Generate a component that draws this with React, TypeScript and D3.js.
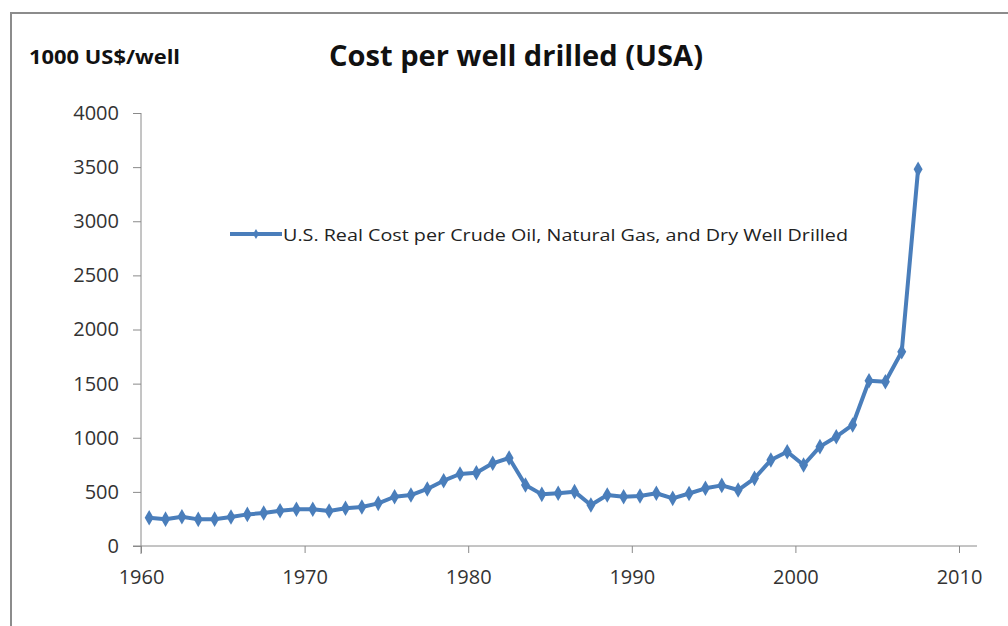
import React, { useEffect, useRef } from "react";
import * as d3 from "d3";

// years 1960..2007, cost in 1000 US$ per well
const years = d3.range(1960, 2008);
const costs = [
  261, 248, 271, 246, 248, 268, 292, 305, 326, 339,
  339, 323, 348, 360, 394, 455, 471, 527, 603, 665,
  677, 764, 813, 563, 477, 487, 502, 379, 471, 455,
  462, 487, 440, 485, 533, 560, 517, 625, 794, 871,
  748, 918, 1010, 1118, 1527, 1518, 1795, 3480,
];
const yTicks = [0, 500, 1000, 1500, 2000, 2500, 3000, 3500, 4000];
const xTicks = [1960, 1970, 1980, 1990, 2000, 2010];
const seriesName = "U.S. Real Cost per Crude Oil, Natural Gas, and Dry Well Drilled";

const W = 1008, H = 626;
const blue = "#4a7ebb";
const axisGrey = "#8a8a8a";
const font = "'Open Sans', 'Noto Sans', sans-serif";

export default function App() {
  const ref = useRef<SVGSVGElement>(null);

  useEffect(() => {
    const svg = d3.select(ref.current);
    svg.selectAll("*").remove();

    const x = d3.scaleLinear().domain([1960, 2010]).range([141, 959]);
    const y = d3.scaleLinear().domain([0, 4000]).range([546, 113]);

    svg.append("rect").attr("width", W).attr("height", H).attr("fill", "#fff");
    // chart frame (only top/left visible)
    svg.append("path").attr("d", "M11,626V13H1010")
      .attr("fill", "none").attr("stroke", "#8c8c8c").attr("stroke-width", 2);

    svg.append("text").attr("x", 29).attr("y", 64)
      .attr("font-family", font).attr("font-weight", 700).attr("font-size", 19)
      .attr("textLength", 151).attr("lengthAdjust", "spacingAndGlyphs")
      .attr("fill", "#111").text("1000 US$/well");

    svg.append("text").attr("x", 329).attr("y", 66)
      .attr("font-family", font).attr("font-weight", 700).attr("font-size", 28)
      .attr("textLength", 374).attr("lengthAdjust", "spacingAndGlyphs")
      .attr("fill", "#111").text("Cost per well drilled (USA)");

    // y axis
    const ya = svg.append("g").attr("transform", `translate(${x(1960)},0)`)
      .call(d3.axisLeft(y).tickValues(yTicks).tickSize(8).tickPadding(14).tickFormat(d3.format("d")));
    ya.select(".domain").attr("stroke", axisGrey).attr("d", `M0,${y(0) + 8}V${y(4000)}`);
    ya.selectAll(".tick line").attr("stroke", axisGrey);
    ya.selectAll(".tick text").attr("font-family", font).attr("font-size", 20)
      .attr("fill", "#333");

    // x axis
    const xa = svg.append("g").attr("transform", `translate(0,${y(0)})`)
      .call(d3.axisBottom(x).tickValues(xTicks).tickSize(7).tickPadding(17).tickFormat(d3.format("d")));
    xa.select(".domain").attr("stroke", axisGrey)
      .attr("d", `M${x(1960) - 8},0H${x(2011.1)}`);
    xa.selectAll(".tick line").attr("stroke", axisGrey);
    xa.selectAll(".tick text").attr("font-family", font).attr("font-size", 20)
      .attr("fill", "#333");

    const pts = years.map((yr, i) => [x(yr + 0.5), y(costs[i])] as [number, number]);
    svg.append("path").attr("d", d3.line()(pts))
      .attr("fill", "none").attr("stroke", blue).attr("stroke-width", 4)
      .attr("stroke-linejoin", "round");

    const diamond = d3.symbol().type(d3.symbolDiamond).size(70);
    svg.append("g").selectAll("path").data(pts).enter().append("path")
      .attr("transform", (d) => `translate(${d[0]},${d[1]})`)
      .attr("d", diamond()).attr("fill", blue);

    // legend
    const lg = svg.append("g").attr("transform", "translate(230,234)");
    lg.append("line").attr("x1", 0).attr("x2", 52).attr("stroke", blue).attr("stroke-width", 4);
    lg.append("path").attr("transform", "translate(26,0)")
      .attr("d", d3.symbol().type(d3.symbolDiamond).size(30)()).attr("fill", blue);
    lg.append("text").attr("x", 53).attr("y", 7)
      .attr("font-family", font).attr("font-size", 17)
      .attr("textLength", 565).attr("lengthAdjust", "spacingAndGlyphs")
      .attr("fill", "#222").text(seriesName);
  }, []);

  return (
    <svg ref={ref} width={W} height={H}
      style={{ position: "absolute", left: 0, top: 0, display: "block" }} />
  );
}
